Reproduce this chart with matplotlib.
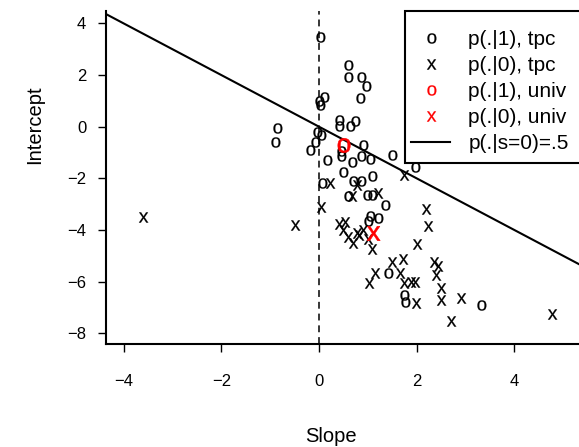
import numpy as np
import matplotlib
matplotlib.use("Agg")
import matplotlib.pyplot as plt
from matplotlib.textpath import TextPath
from matplotlib.font_manager import FontProperties
from matplotlib.path import Path
from matplotlib.lines import Line2D
from matplotlib.patches import Rectangle

# Posterior draws of (slope, intercept) for the two groups, tpc fit
slope_tpc_1 = [0.02, 0.60, 0.60, 0.87, 0.96, 0.84, 0.11, 0.01, 0.03, 0.40,
               0.74, 0.40, 0.63, -0.87, -0.90, -0.05, 0.05, -0.08, -0.18, 0.16,
               0.46, 0.46, 0.67, 0.91, 0.87, 1.04, 1.50, 1.97, 0.50, 0.70,
               0.87, 1.09, 0.07, 0.60, 0.98, 1.08, 1.35, 1.04, 1.21, 1.00,
               1.42, 1.73, 1.76, 3.31]
icept_tpc_1 = [3.46, 2.39, 1.91, 1.91, 1.58, 1.10, 1.14, 0.99, 0.84, 0.26,
               0.23, 0.03, 0.03, -0.06, -0.58, -0.19, -0.32, -0.58, -0.90, -1.27,
               -0.95, -1.15, -1.35, -0.71, -1.13, -1.24, -1.10, -1.55, -1.74, -2.11,
               -2.11, -1.89, -2.18, -2.68, -2.64, -2.64, -3.05, -3.45, -3.55, -3.65,
               -5.68, -6.52, -6.77, -6.90]

slope_tpc_0 = [-3.60, -0.49, 0.05, 0.23, 0.67, 0.78, 1.20, 1.73, 0.40, 0.53,
               0.50, 0.60, 0.70, 0.77, 0.82, 0.91, 1.00, 1.08, 2.20, 2.24,
               2.00, 1.49, 1.71, 1.15, 1.02, 1.65, 1.74, 1.89, 1.97, 1.98,
               2.36, 2.44, 2.40, 2.49, 2.49, 2.90, 2.70, 4.76]
icept_tpc_0 = [-3.50, -3.81, -3.10, -2.19, -2.68, -2.25, -2.58, -1.87, -3.77, -3.68,
               -4.00, -4.26, -4.50, -4.10, -4.20, -3.98, -4.35, -4.75, -3.20, -3.86,
               -4.56, -5.24, -5.14, -5.66, -6.04, -5.68, -6.05, -6.02, -6.02, -6.81,
               -5.23, -5.40, -5.76, -6.24, -6.71, -6.65, -7.53, -7.27]

# Univariate estimates
slope_univ_1 = [0.50]
icept_univ_1 = [-0.71]
slope_univ_0 = [1.10]
icept_univ_0 = [-4.10]

# Boundary where p(.|s=0) = .5
line_intercept = 0.0
line_slope = -1.0

xticks = [-4, -2, 0, 2, 4]
yticks = [-8, -6, -4, -2, 0, 2, 4]
legend_labels = ["p(.|1), tpc", "p(.|0), tpc", "p(.|1), univ", "p(.|0), univ",
                 "p(.|s=0)=.5"]

FONT = "Liberation Sans"
plt.rcParams["font.family"] = [FONT, "DejaVu Sans"]


def glyph_marker(ch):
    tp = TextPath((0, 0), ch, size=10, prop=FontProperties(family=FONT))
    v = tp.vertices.copy()
    lo, hi = v.min(axis=0), v.max(axis=0)
    v -= (lo + hi) / 2.0
    return Path(v, tp.codes)


m_o = glyph_marker("o")
m_x = glyph_marker("x")

W, H, DPI = 579, 447, 100
fig = plt.figure(figsize=(W / DPI, H / DPI), dpi=DPI)

# plot region in pixels
L, R, T, B = 106, 590, 11, 344
ax = fig.add_axes([L / W, 1 - B / H, (R - L) / W, (B - T) / H])


def ax_x(px):
    return (px - L) / (R - L)


def ax_y(py):
    return (B - py) / (B - T)


px_per_x = 48.85
px_per_y = 25.83
x0_px, y0_px = 319.0, 126.7
ax.set_xlim((L - x0_px) / px_per_x, (R - x0_px) / px_per_x)
ax.set_ylim((y0_px - B) / px_per_y, (y0_px - T) / px_per_y)

ms = 7.4
ax.plot(slope_tpc_1, icept_tpc_1, ls="none", marker=m_o, ms=ms,
        mfc="black", mec="black", mew=0.15)
ax.plot(slope_tpc_0, icept_tpc_0, ls="none", marker=m_x, ms=ms,
        mfc="black", mec="black", mew=0.15)
ax.plot(slope_univ_1, icept_univ_1, ls="none", marker=m_o, ms=ms * 1.4,
        mfc="red", mec="red", mew=0.4, zorder=4)
ax.plot(slope_univ_0, icept_univ_0, ls="none", marker=m_x, ms=ms * 1.4,
        mfc="red", mec="red", mew=0.4, zorder=4)

ax.axline((0, line_intercept), slope=line_slope, color="black", lw=1.5)
ax.axvline(0, color="black", lw=1.1, dashes=(4.5, 3.2))

for s in ("top", "right"):
    ax.spines[s].set_visible(False)
for s in ("left", "bottom"):
    ax.spines[s].set_linewidth(1.5)

ax.set_xticks(xticks)
ax.set_yticks(yticks)
ax.set_xticklabels([str(t).replace("-", "\u2212") for t in xticks])
ax.set_yticklabels([str(t).replace("-", "\u2212") for t in yticks])
ax.tick_params(axis="both", direction="out", length=5.8, width=1.0,
               labelsize=12, colors="black")
ax.tick_params(axis="x", pad=15.5)
ax.tick_params(axis="y", pad=8.5)

ax.set_xlabel("Slope", fontsize=14.5, va="center")
ax.set_ylabel("Intercept", fontsize=14.5, va="center")
ax.xaxis.set_label_coords(ax_x(331), ax_y(436))
ax.yaxis.set_label_coords(ax_x(35), ax_y(125))

# legend frame
frame = Rectangle((ax_x(405), ax_y(163)), 1.2 - ax_x(405), ax_y(11) - ax_y(163),
                  transform=ax.transAxes, fill=True, facecolor="white",
                  edgecolor="black", lw=1.5, clip_on=False, zorder=5)
ax.add_patch(frame)

handles = [
    Line2D([], [], ls="none", marker=m_o, ms=ms, mfc="black", mec="black", mew=0.15),
    Line2D([], [], ls="none", marker=m_x, ms=ms, mfc="black", mec="black", mew=0.15),
    Line2D([], [], ls="none", marker=m_o, ms=ms, mfc="red", mec="red", mew=0.15),
    Line2D([], [], ls="none", marker=m_x, ms=ms, mfc="red", mec="red", mew=0.15),
    Line2D([], [], color="black", lw=1.5),
]
leg = ax.legend(handles, legend_labels, loc="upper left",
                bbox_to_anchor=(ax_x(411), ax_y(30)),
                borderaxespad=0, borderpad=0, fontsize=15, frameon=False,
                handlelength=1.875, handletextpad=0.87, labelspacing=0.34,
                numpoints=1)
leg.set_zorder(6)

fig.savefig("out.png", dpi=DPI)
